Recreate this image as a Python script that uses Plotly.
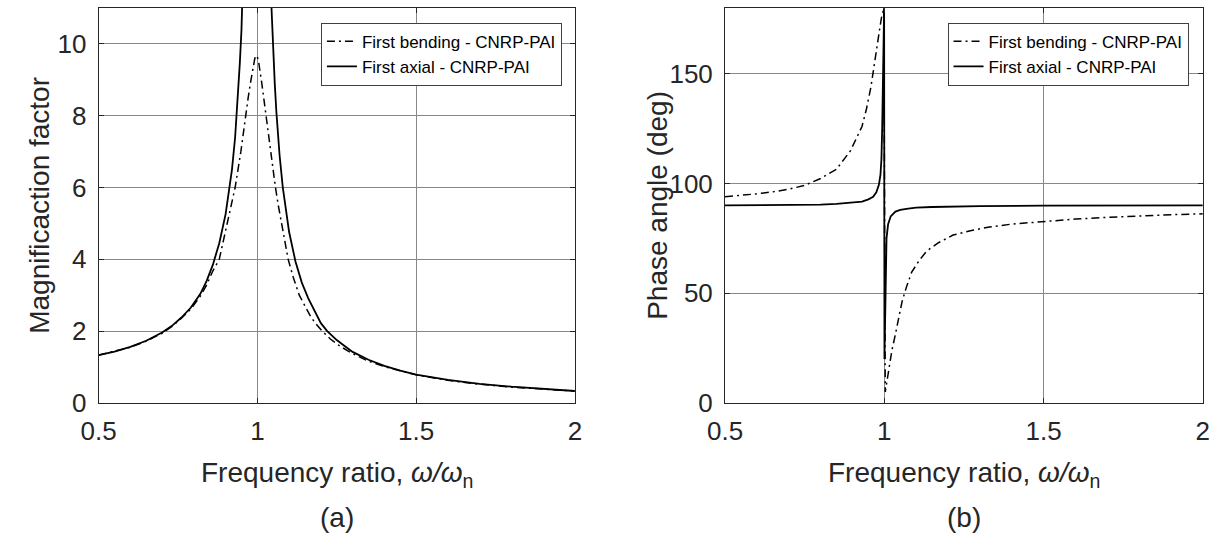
import plotly.graph_objects as go

# ---------------- data ----------------
# (a) magnification factor
x_mag_bend = [0.50, 0.55, 0.60, 0.65, 0.70, 0.73, 0.76, 0.79, 0.82, 0.84, 0.86, 0.88,
              0.905, 0.93, 0.948, 0.955, 0.964, 0.971, 0.978, 0.983, 0.988, 0.992,
              0.996, 1.000, 1.004, 1.009, 1.014, 1.020, 1.027, 1.034, 1.041, 1.048,
              1.057, 1.066, 1.076, 1.085, 1.097, 1.113, 1.132, 1.150, 1.165, 1.180,
              1.204, 1.23, 1.26, 1.30, 1.35, 1.40, 1.45, 1.50, 1.60, 1.70, 1.80,
              1.90, 2.00]
y_mag_bend = [1.33, 1.43, 1.55, 1.72, 1.94, 2.12, 2.35, 2.61, 2.97, 3.28, 3.68, 4.0,
              5.0, 6.0, 7.0, 7.5, 8.0, 8.5, 8.9, 9.2, 9.45, 9.6,
              9.68, 9.64, 9.5, 9.25, 8.9, 8.5, 8.0, 7.5, 7.0, 6.5,
              6.0, 5.5, 5.0, 4.5, 4.0, 3.5, 3.0, 2.7, 2.45, 2.25,
              2.0, 1.78, 1.58, 1.37, 1.16, 1.01, 0.89, 0.78, 0.63, 0.52, 0.44,
              0.38, 0.33]

x_mag_axial = [0.50, 0.55, 0.60, 0.65, 0.70, 0.73, 0.76, 0.79, 0.82, 0.84, 0.86, 0.88,
               0.90, 0.91, 0.92, 0.93, 0.94, 0.945, 0.95, 0.955, 0.96, 0.97, 0.98,
               0.99, 1.01, 1.02, 1.03, 1.04, 1.045, 1.05, 1.055, 1.06, 1.07, 1.08,
               1.09, 1.10, 1.12, 1.14, 1.16, 1.18, 1.20, 1.22, 1.25, 1.28, 1.30,
               1.35, 1.40, 1.45, 1.50, 1.60, 1.70, 1.80, 1.90, 2.00]
y_mag_axial = [1.33, 1.43, 1.56, 1.73, 1.96, 2.14, 2.37, 2.65, 3.03, 3.39, 3.85, 4.45,
               5.26, 5.82, 6.5, 7.4, 8.7, 9.5, 10.4, 11.5, 12.9, 16.9, 25.0,
               50.0, 50.0, 24.8, 16.4, 12.3, 10.9, 9.76, 8.86, 8.09, 6.9, 6.01,
               5.32, 4.76, 3.94, 3.35, 2.92, 2.58, 2.22, 2.0, 1.75, 1.55, 1.42,
               1.2, 1.03, 0.9, 0.79, 0.64, 0.53, 0.45, 0.38, 0.33]

# (b) phase angle
x_ph_bend = [0.50, 0.55, 0.60, 0.65, 0.70, 0.75, 0.80, 0.85, 0.894, 0.93, 0.944, 0.958,
             0.967, 0.977, 0.985, 0.991, 0.995, 0.9985, 1.003, 1.008, 1.015, 1.024,
             1.033, 1.045, 1.056, 1.07, 1.086, 1.11, 1.133, 1.17, 1.216, 1.27, 1.33,
             1.40, 1.50, 1.60, 1.70, 1.80, 1.90, 2.00]
y_ph_bend = [94.0, 94.6, 95.3, 96.2, 97.4, 99.2, 102.3, 106.5, 115.0, 126.0, 134.0, 144.0,
             152.0, 162.0, 170.0, 175.5, 178.5, 180.0, 5.0, 10.0, 16.7, 24.0,
             30.0, 39.0, 46.3, 53.0, 59.6, 65.0, 69.2, 73.0, 76.5, 78.5, 80.2,
             81.5, 82.8, 83.8, 84.6, 85.3, 85.8, 86.2]

x_ph_axial = [0.50, 0.60, 0.70, 0.80, 0.85, 0.90, 0.93, 0.95, 0.965, 0.975, 0.983, 0.988,
              0.991, 0.9935, 0.996, 0.998, 0.9995, 1.0005, 1.002, 1.004, 1.007, 1.012,
              1.02, 1.035, 1.05, 1.075, 1.10, 1.15, 1.20, 1.30, 1.50, 1.75, 2.00]
y_ph_axial = [90.0, 90.1, 90.2, 90.4, 90.7, 91.2, 91.8, 92.8, 94.0, 96.0, 99.4, 104.0,
              111.0, 126.0, 150.0, 175.0, 180.0, 20.0, 40.0, 62.0, 75.0, 81.5,
              85.0, 87.2, 88.0, 88.6, 89.0, 89.3, 89.5, 89.7, 89.9, 90.0, 90.0]

name_bend = "First bending - CNRP-PAI"
name_axial = "First axial - CNRP-PAI"
y_ticks_mag = [0, 2, 4, 6, 8, 10]
y_ticks_ph = [0, 50, 100, 150]
x_ticks = [0.5, 1, 1.5, 2]
x_tick_text = ["0.5", "1", "1.5", "2"]

# ---------------- layout geometry ----------------
W, H = 1221, 548
L1, R1 = 82.3, 568.5
L2, R2 = 721.8, 1209.6
T, B = 8.3, 414.2
FONT = "Liberation Sans, Arial, sans-serif"
TXT = "#262626"
GRID = "#888888"

DASHDOT = "8px,4px,2px,4px"

fig = go.Figure()
fig.add_trace(go.Scatter(x=x_mag_bend, y=y_mag_bend, mode="lines", name=name_bend,
                         line=dict(color="black", width=1.5, dash=DASHDOT),
                         xaxis="x", yaxis="y", legend="legend"))
fig.add_trace(go.Scatter(x=x_mag_axial, y=y_mag_axial, mode="lines", name=name_axial,
                         line=dict(color="black", width=1.8),
                         xaxis="x", yaxis="y", legend="legend"))
fig.add_trace(go.Scatter(x=x_ph_bend, y=y_ph_bend, mode="lines", name=name_bend,
                         line=dict(color="black", width=1.5, dash=DASHDOT),
                         xaxis="x2", yaxis="y2", legend="legend2"))
fig.add_trace(go.Scatter(x=x_ph_axial, y=y_ph_axial, mode="lines", name=name_axial,
                         line=dict(color="black", width=1.8),
                         xaxis="x2", yaxis="y2", legend="legend2"))

axis_common = dict(showgrid=True, gridcolor=GRID, gridwidth=1, showline=True,
                   linecolor=TXT, linewidth=1, mirror="ticks", ticks="inside",
                   ticklen=5, tickcolor=TXT, zeroline=False,
                   tickfont=dict(family=FONT, size=26, color=TXT))
xaxis_extra = dict(ticklabelstandoff=5)
yaxis_extra = dict(ticklabelstandoff=6)

fig.update_layout(
    width=W, height=H,
    margin=dict(l=0, r=0, t=0, b=0),
    paper_bgcolor="white", plot_bgcolor="white",
    showlegend=True,
    xaxis=dict(domain=[L1 / W, R1 / W], range=[0.5, 2], tickvals=x_ticks,
               ticktext=x_tick_text, anchor="y", **axis_common, **xaxis_extra),
    yaxis=dict(domain=[1 - B / H, 1 - T / H], range=[0, 11], tickvals=y_ticks_mag,
               anchor="x", **axis_common, **yaxis_extra),
    xaxis2=dict(domain=[L2 / W, R2 / W], range=[0.5, 2], tickvals=x_ticks,
                ticktext=x_tick_text, anchor="y2", **axis_common, **xaxis_extra),
    yaxis2=dict(domain=[1 - B / H, 1 - T / H], range=[0, 180], tickvals=y_ticks_ph,
                anchor="x2", **axis_common, **yaxis_extra),
    legend=dict(x=555.3 / W, y=1 - 23.3 / H, xanchor="right", yanchor="top",
                bgcolor="white", bordercolor="#404040", borderwidth=1,
                font=dict(family=FONT, size=17, color="black"), tracegroupgap=0),
    legend2=dict(x=1195 / W, y=1 - 23.3 / H, xanchor="right", yanchor="top",
                 bgcolor="white", bordercolor="#404040", borderwidth=1,
                 font=dict(family=FONT, size=17, color="black"), tracegroupgap=0),
)

xtitle = "Frequency ratio, <i>ω/ω</i><sub>n</sub>"
ann_font = dict(family=FONT, size=28, color=TXT)
annotations = [
    dict(text="Magnificaction factor", x=22 / W, y=1 - 211 / H, textangle=-90),
    dict(text="Phase angle (deg)", x=653 / W, y=1 - 211 / H, textangle=-90),
    dict(text=xtitle, x=(L1 + R1) / 2 / W, y=1 - 488 / H),
    dict(text=xtitle, x=(L2 + R2) / 2 / W, y=1 - 488 / H),
    dict(text="(a)", x=(L1 + R1) / 2 / W, y=1 - 532 / H),
    dict(text="(b)", x=(L2 + R2) / 2 / W, y=1 - 532 / H),
]
for a in annotations:
    a.update(xref="paper", yref="paper", showarrow=False, font=ann_font,
             xanchor="center", yanchor="middle")
fig.update_layout(annotations=annotations)

fig.write_html("out.html")
